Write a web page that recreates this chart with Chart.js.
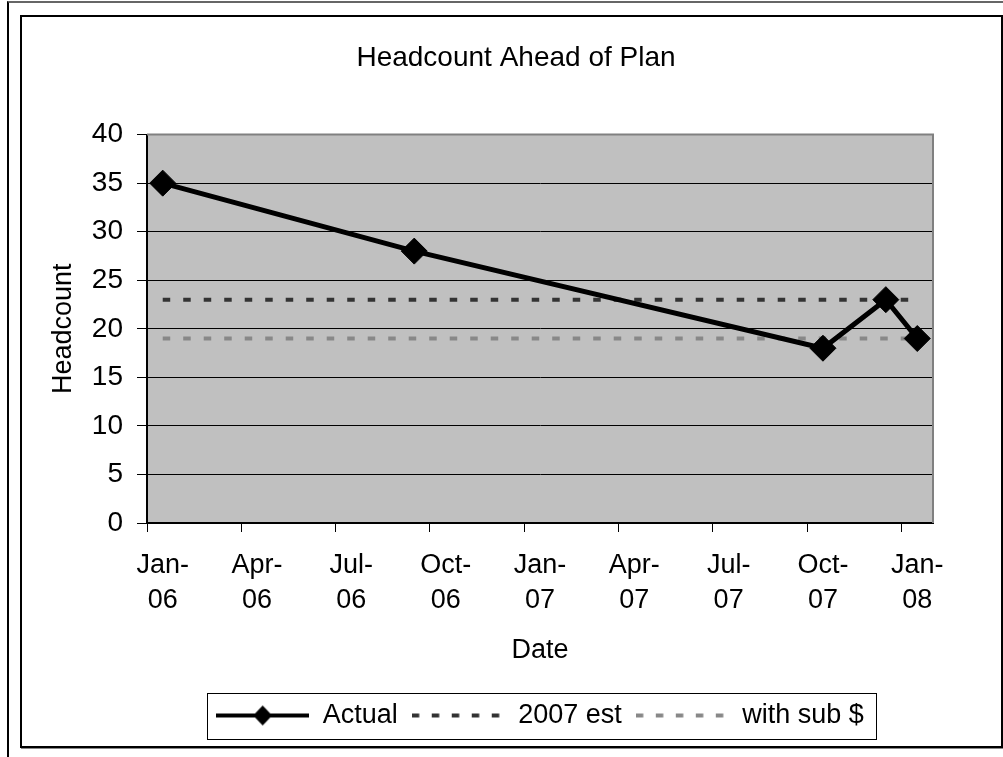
<!DOCTYPE html>
<html>
<head>
<meta charset="utf-8">
<script src="https://cdn.jsdelivr.net/npm/chart.js@4.4.0/dist/chart.umd.min.js"></script>
<style>
  html, body { margin: 0; padding: 0; background: #fff; }
  #wrap { position: relative; width: 1003px; height: 757px; overflow: hidden; }
  #chart { position: absolute; left: 0; top: 0; }
  .outer { position: absolute; left: 7px; top: 1px; width: 1000px; height: 760px; border-top: 2px solid #666; border-left: 2px solid #000; pointer-events: none; }
  .inner { position: absolute; left: 20px; top: 15px; width: 979px; height: 729px; border: 2px solid #000; box-shadow: 1px 1px 0 #888; pointer-events: none; }
</style>
</head>
<body>
<div id="wrap">
  <canvas id="chart" width="1003" height="757"></canvas>
  <div class="outer"></div>
  <div class="inner"></div>
</div>
<script>
// one slot per month, Jan-06 .. Jan-08
const months = ['Jan-06', 'Feb-06', 'Mar-06', 'Apr-06', 'May-06', 'Jun-06', 'Jul-06', 'Aug-06', 'Sep-06',
  'Oct-06', 'Nov-06', 'Dec-06', 'Jan-07', 'Feb-07', 'Mar-07', 'Apr-07', 'May-07', 'Jun-07', 'Jul-07',
  'Aug-07', 'Sep-07', 'Oct-07', 'Nov-07', 'Dec-07', 'Jan-08']

const actual = [35, null, null, null, null, null, null, null, 28, null, null, null, null,
  null, null, null, null, null, null, null, null, 18, null, 23, 19]
const est2007 = [23, null, null, null, null, null, null, null, null, null, null, null, null,
  null, null, null, null, null, null, null, null, null, null, null, 23]
const withSub = [19, null, null, null, null, null, null, null, null, null, null, null, null,
  null, null, null, null, null, null, null, null, null, null, null, 19]

const seriesNames = ['Actual', '2007 est', 'with sub $']
const yMin = 0
const yMax = 40
const yStep = 5

const FONT = 'Liberation Sans, Arial, sans-serif'

// legend samples: line with diamond, and the two dashed lines
const makeSwatch = (color, dashed, marker) => {
  const c = document.createElement('canvas')
  c.width = 93
  c.height = 26
  const g = c.getContext('2d')
  g.strokeStyle = color
  g.lineWidth = 4
  if (dashed) g.setLineDash([7.5, 12.5])
  g.beginPath()
  g.moveTo(0, 13)
  g.lineTo(93, 13)
  g.stroke()
  if (marker) {
    g.fillStyle = color
    g.beginPath()
    g.moveTo(46.5, 3)
    g.lineTo(56, 13)
    g.lineTo(46.5, 23)
    g.lineTo(37, 13)
    g.closePath()
    g.fill()
  }
  return c
}
const swatches = [makeSwatch('#000', false, true), makeSwatch('#333', true, false), makeSwatch('#888', true, false)]

const plotFrame = {
  id: 'plotFrame',
  beforeDraw(chart) {
    const {ctx, chartArea: a} = chart
    ctx.save()
    ctx.fillStyle = '#c0c0c0'
    ctx.fillRect(a.left, a.top, a.right - a.left, a.bottom - a.top)
    ctx.restore()
  },
  beforeDatasetsDraw(chart) {
    const {ctx, chartArea: a} = chart
    ctx.save()
    ctx.strokeStyle = '#808080'
    ctx.lineWidth = 2
    ctx.beginPath()
    ctx.moveTo(a.left, a.top)
    ctx.lineTo(a.right, a.top)
    ctx.lineTo(a.right, a.bottom)
    ctx.stroke()
    ctx.restore()
  },
  afterLayout(chart) {
    // Excel centres the title over the whole chart object
    if (chart.titleBlock) {
      chart.titleBlock.left = 28
      chart.titleBlock.right = 1004
    }
  },
  afterDraw(chart) {
    const hb = chart.legend.legendHitBoxes
    if (!hb || !hb.length) return
    const last = hb[hb.length - 1]
    const cy = hb[0].top + hb[0].height / 2
    const ctx = chart.ctx
    ctx.save()
    ctx.strokeStyle = '#000'
    ctx.lineWidth = 1
    ctx.strokeRect(Math.round(hb[0].left - 9) + 0.5, Math.round(cy - 23) + 0.5,
      Math.round(last.left + last.width + 12 - (hb[0].left - 9)), 46)
    ctx.restore()
  }
}

const ctx = document.getElementById('chart').getContext('2d')

const chart = new Chart(ctx, {
  type: 'line',
  data: {
    labels: months,
    datasets: [
      {
        label: seriesNames[0],
        data: actual,
        borderColor: '#000',
        backgroundColor: '#000',
        borderWidth: 5,
        pointStyle: 'rectRot',
        pointRadius: 13,
        pointBorderWidth: 1,
        pointBackgroundColor: '#000',
        spanGaps: true
      },
      {
        label: seriesNames[1],
        data: est2007,
        borderColor: '#333',
        borderWidth: 4,
        borderDash: [7.5, 13],
        pointRadius: 0,
        spanGaps: true
      },
      {
        label: seriesNames[2],
        data: withSub,
        borderColor: '#888',
        borderWidth: 4,
        borderDash: [7.5, 13],
        pointRadius: 0,
        spanGaps: true
      }
    ]
  },
  options: {
    responsive: false,
    animation: false,
    layout: {
      padding: { left: 30, right: 70, top: 20, bottom: 18 }
    },
    plugins: {
      title: {
        display: true,
        text: 'Headcount Ahead of Plan',
        color: '#000',
        font: { family: FONT, size: 28, weight: 'normal', lineHeight: 1.2 },
        padding: { top: 21, bottom: 60 }
      },
      legend: {
        position: 'bottom',
        fullSize: false,
        labels: {
          usePointStyle: true,
          pointStyleWidth: 93,
          padding: 14,
          color: '#000',
          font: { family: FONT, size: 27 },
          generateLabels: (c) => seriesNames.map((name, i) => ({
            text: name,
            pointStyle: swatches[i],
            fillStyle: 'transparent',
            strokeStyle: 'transparent',
            lineWidth: 1,
            fontColor: '#000',
            hidden: !c.isDatasetVisible(i),
            datasetIndex: i
          }))
        }
      },
      tooltip: { enabled: false }
    },
    scales: {
      x: {
        type: 'category',
        offset: true,
        afterFit: (scale) => { scale.height = 165 },
        border: { display: true, color: '#000', width: 2 },
        grid: {
          offset: true,
          drawOnChartArea: false,
          drawTicks: true,
          tickLength: 9,
          color: (c) => (c.index % 3 === 0 && c.index < months.length) ? '#000' : 'rgba(0,0,0,0)',
          tickColor: (c) => (c.index % 3 === 0 && c.index < months.length) ? '#000' : 'rgba(0,0,0,0)'
        },
        ticks: {
          autoSkip: false,
          maxRotation: 0,
          minRotation: 0,
          padding: 16,
          color: '#000',
          font: { family: FONT, size: 27, lineHeight: 1.3 },
          callback: function (value, index) {
            if (index % 3 !== 0) return ''
            const m = months[index]
            return [m.slice(0, 4), m.slice(4)]
          }
        },
        title: {
          display: true,
          text: 'Date',
          color: '#000',
          font: { family: FONT, size: 27, lineHeight: 1.2 },
          padding: { top: 0, bottom: 21 }
        }
      },
      y: {
        min: yMin,
        max: yMax,
        afterFit: (scale) => { scale.width = 117 },
        border: { display: true, color: '#000', width: 2 },
        grid: {
          color: '#000',
          lineWidth: 1,
          tickLength: 10,
          tickColor: '#000'
        },
        ticks: {
          stepSize: yStep,
          padding: 14,
          color: '#000',
          font: { family: FONT, size: 28 }
        },
        title: {
          display: true,
          text: 'Headcount',
          color: '#000',
          font: { family: FONT, size: 27, lineHeight: 1.2 },
          padding: { top: 17, bottom: 0 }
        }
      }
    }
  },
  plugins: [plotFrame]
})
</script>
</body>
</html>
